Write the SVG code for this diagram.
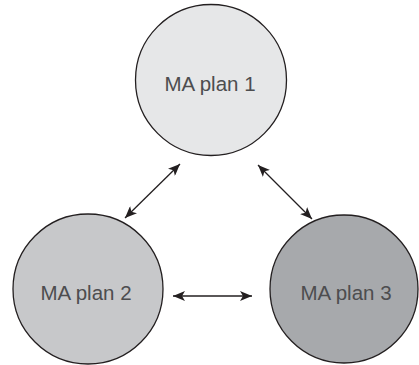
<svg xmlns="http://www.w3.org/2000/svg" width="419" height="365" viewBox="0 0 419 365">
<defs>
<marker id="ah" viewBox="0 0 12 10" refX="12" refY="5" markerWidth="12" markerHeight="10" markerUnits="userSpaceOnUse" orient="auto-start-reverse">
<path d="M0,0 L12,5 L0,10 L3,5 Z" fill="#231f20"/>
</marker>
</defs>
<style>
.node{stroke:#231f20;stroke-width:1.3}
.lbl{font-family:"Liberation Sans",Arial,sans-serif;font-size:20.5px;fill:#4d4d4f;text-anchor:middle}
.conn{stroke:#231f20;stroke-width:1.3;fill:none;marker-start:url(#ah);marker-end:url(#ah)}
</style>
<rect width="419" height="365" fill="#ffffff"/>
<g id="node1">
<circle class="node" cx="211" cy="80" r="75.5" fill="#e6e7e8"/>
<text class="lbl" x="210" y="91">MA plan 1</text>
</g>
<g id="node2">
<circle class="node" cx="88" cy="289" r="75" fill="#c7c8ca"/>
<text class="lbl" x="86" y="300">MA plan 2</text>
</g>
<g id="node3">
<circle class="node" cx="344" cy="289" r="74" fill="#a7a9ac"/>
<text class="lbl" x="346" y="300">MA plan 3</text>
</g>
<g id="connectors">
<line class="conn" x1="180" y1="164" x2="125" y2="218"/>
<line class="conn" x1="258" y1="165" x2="312" y2="219"/>
<line class="conn" x1="173" y1="296" x2="252" y2="296"/>
</g>
</svg>
